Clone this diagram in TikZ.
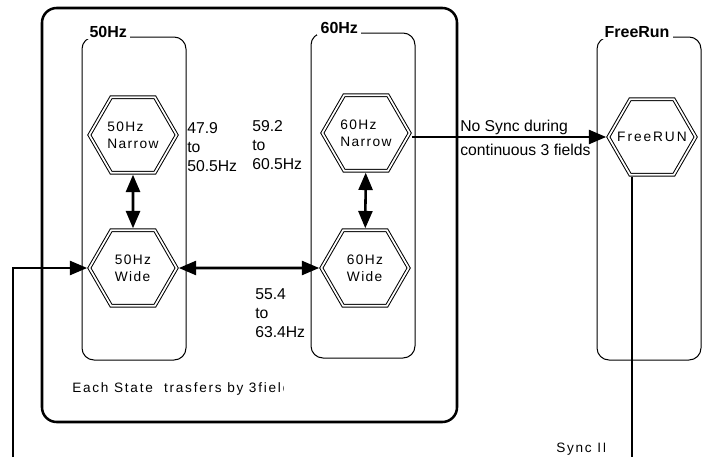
\documentclass[tikz,border=0pt]{standalone}
\usepackage{fontspec}
\setmainfont{Liberation Sans}
\usetikzlibrary{shapes.geometric,arrows.meta}
\begin{document}
\begin{tikzpicture}[x=0.75pt,y=-0.75pt,
  hexa/.style={draw, line width=0.75pt, double=white, double distance=1.3pt,
    regular polygon, regular polygon sides=6, minimum size=65.5pt,
    inner sep=0pt, outer sep=1.4pt, align=left,
    font=\fontsize{10.3}{12.7}\selectfont\addfontfeature{LetterSpace=10}},
  grp/.style={draw, line width=0.75pt, rounded corners=9pt},
  glabel/.style={fill=white, inner xsep=2.5pt, inner ysep=1.5pt, anchor=base west,
    font=\bfseries\fontsize{12}{14}\selectfont},
  lbl/.style={inner sep=0pt, align=left, font=\fontsize{11.8}{14.5}\selectfont},
  small/.style={inner sep=0pt, anchor=base west,
    font=\fontsize{10.2}{12}\selectfont\addfontfeature{LetterSpace=13}},
  arr/.style={line width=1.9pt, -{Triangle[length=13pt,width=10.5pt]}},
  darr/.style={line width=1.9pt, {Triangle[length=13pt,width=10.5pt]}-{Triangle[length=13pt,width=10.5pt]}}
]
\useasboundingbox (0,0) rectangle (710,457);

% outer state box
\draw[line width=1.9pt, rounded corners=11pt] (42,8) rectangle (457,422);

% group boxes
\draw[grp] (82,37) rectangle (186,360);
\node[glabel] (g50) at (86,37) {50Hz};
\draw[grp] (311,33) rectangle (415,358);
\node[glabel] (g60) at (317,33) {60Hz};
\draw[grp] (597,37) rectangle (701,360);
\node[glabel] (gfr) at (601,37) {FreeRun};

% states
\node[hexa] (n50) at (133,135) {50Hz\\Narrow};
\node[hexa] (w50) at (133,268) {50Hz\\Wide};
\node[hexa] (n60) at (366,133) {60Hz\\Narrow};
\node[hexa] (w60) at (365,268) {60Hz\\Wide};
\node[hexa, font=\fontsize{10.3}{12.7}\selectfont\addfontfeature{LetterSpace=14}] (fr) at (652,137) {\makebox[0pt]{FreeRUN}};

% transitions
\draw[darr] (n50) -- (w50);
\draw[darr] (n60) -- (w60);
\draw[darr] (w50) -- (w60);
\draw[arr] (fr.west -| n60.east) -- (fr.west);

% sync in loop
\coordinate (s1) at (632,457);
\coordinate (s2) at (13,457);
\draw[line width=1.9pt] (fr.south -| s1) -- (s1);
\draw[arr] (s2) |- (w50.west);

% labels
\node[lbl, anchor=north west] (la) at (187,122) {47.9\\to\\50.5Hz};
\node[lbl, anchor=north west] (lb) at (252,120) {59.2\\to\\60.5Hz};
\node[lbl, anchor=north west] (lc) at (255,288) {55.4\\to\\63.4Hz};
\node[lbl, anchor=base west] (ns1) at (460,131) {No Sync during};
\node[lbl, anchor=base west] (ns2) at (460,155) {continuous 3 fields};

\begin{scope}
  \clip (60,370) rectangle (283,400);
  \node[small] (each) at (72,392) {Each State\ \ trasfers by 3fields};
\end{scope}
\begin{scope}
  \clip (540,430) rectangle (604,457);
  \node[small] (sync) at (556,452) {Sync IN};
\end{scope}
\end{tikzpicture}
\end{document}
